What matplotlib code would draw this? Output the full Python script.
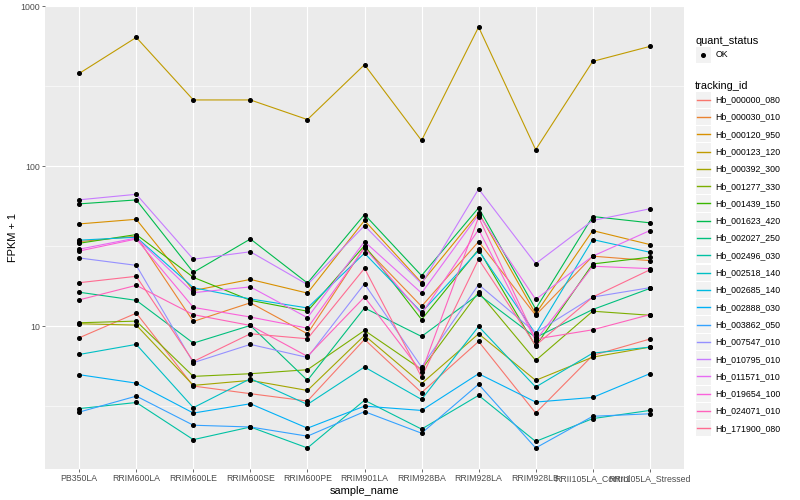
import matplotlib
matplotlib.use("Agg")
import matplotlib.pyplot as plt
import numpy as np
from matplotlib.legend_handler import HandlerBase
from matplotlib.patches import Rectangle
from matplotlib.lines import Line2D
from matplotlib.ticker import FixedLocator, FixedFormatter, NullFormatter

plt.rcParams['font.family'] = ['Liberation Sans', 'DejaVu Sans']

samples = ["PB350LA", "RRIM600LA", "RRIM600LE", "RRIM600SE", "RRIM600PE",
           "RRIM901LA", "RRIM928BA", "RRIM928LA", "RRIM928LB",
           "RRII105LA_Control", "RRII105LA_Stressed"]

tracking_ids = ["Hb_000000_080", "Hb_000030_010", "Hb_000120_950", "Hb_000123_120",
                "Hb_000392_300", "Hb_001277_330", "Hb_001439_150", "Hb_001623_420",
                "Hb_002027_250", "Hb_002496_030", "Hb_002518_140", "Hb_002685_140",
                "Hb_002888_030", "Hb_003862_050", "Hb_007547_010", "Hb_010795_010",
                "Hb_011571_010", "Hb_019654_100", "Hb_024071_010", "Hb_171900_080"]

colors = ["#F8766D", "#EA8331", "#D89000", "#C09B00", "#A3A500", "#7CAE00",
          "#39B600", "#00BB4E", "#00BF7D", "#00C1A3", "#00BFC4", "#00BAE0",
          "#00B0F6", "#35A2FF", "#9590FF", "#C77CFF", "#E76BF3", "#FA62DB",
          "#FF62BC", "#FF6C91"]

# FPKM + 1 values per tracking_id, in sample order
hb_000000_080 = [8.46, 12.06, 4.22, 3.78, 3.40, 8.26, 3.84, 8.02, 2.86, 6.56, 8.30]
hb_000030_010 = [33.8, 36.5, 10.7, 14.0, 8.96, 31.2, 13.3, 33.8, 11.7, 27.4, 25.7]
hb_000120_950 = [43.6, 46.6, 16.7, 19.6, 16.1, 45.8, 18.7, 51.2, 11.95, 39.6, 32.4]
hb_000123_120 = [381, 640, 260, 260, 196, 432, 145, 743, 127, 453, 562]
hb_000392_300 = [10.35, 10.15, 4.26, 4.58, 3.96, 8.75, 4.37, 8.96, 4.58, 6.40, 7.39]
hb_001277_330 = [10.5, 10.75, 4.85, 5.04, 5.34, 9.4, 5.36, 16.3, 6.1, 12.4, 11.7]
hb_001439_150 = [33.0, 37.4, 20.2, 14.5, 12.4, 31.9, 11.0, 30.2, 7.5, 24.5, 27.0]
hb_001623_420 = [58.2, 61.6, 21.7, 35.1, 18.6, 49.9, 20.7, 55.0, 12.8, 48.5, 44.3]
hb_002027_250 = [16.3, 14.5, 7.83, 10.1, 4.58, 13.0, 8.62, 15.8, 8.5, 12.7, 17.2]
hb_002496_030 = [3.05, 3.33, 1.95, 2.34, 1.73, 3.44, 2.27, 3.69, 1.90, 2.64, 2.97]
hb_002518_140 = [6.65, 7.69, 3.09, 4.69, 3.24, 5.55, 3.48, 9.96, 4.16, 6.78, 7.39]
hb_002685_140 = [34.5, 36.0, 17.4, 14.8, 13.0, 28.6, 12.2, 29.7, 8.96, 34.8, 29.0]
hb_002888_030 = [4.97, 4.40, 2.86, 3.27, 2.30, 3.16, 2.97, 5.04, 3.35, 3.58, 5.04]
hb_003862_050 = [2.90, 3.65, 2.40, 2.34, 2.05, 2.92, 2.14, 4.33, 1.73, 2.73, 2.83]
hb_007547_010 = [26.7, 24.0, 5.91, 7.69, 6.37, 18.4, 5.55, 18.2, 9.1, 15.2, 17.4]
hb_010795_010 = [61.7, 66.8, 26.2, 29.2, 18.2, 42.5, 18.4, 72.1, 24.6, 45.8, 54.2]
hb_011571_010 = [30.3, 35.6, 16.2, 17.6, 11.3, 33.8, 16.1, 49.9, 14.7, 27.4, 39.6]
hb_019654_100 = [29.5, 35.1, 13.1, 11.4, 9.72, 30.9, 11.95, 40.2, 8.13, 23.7, 22.9]
hb_024071_010 = [14.6, 18.0, 11.8, 10.1, 6.47, 15.2, 5.16, 48.1, 8.3, 9.49, 11.8]
hb_171900_080 = [18.7, 20.5, 6.01, 8.96, 8.34, 23.0, 4.8, 26.2, 7.58, 15.2, 22.5]

series = [hb_000000_080, hb_000030_010, hb_000120_950, hb_000123_120, hb_000392_300,
          hb_001277_330, hb_001439_150, hb_001623_420, hb_002027_250, hb_002496_030,
          hb_002518_140, hb_002685_140, hb_002888_030, hb_003862_050, hb_007547_010,
          hb_010795_010, hb_011571_010, hb_019654_100, hb_024071_010, hb_171900_080]

quant_status = ["OK"]

W, H = 800, 500
fig = plt.figure(figsize=(W / 100, H / 100), dpi=100)
pl, pr, pt, pb = 45, 684, 6, 469
ax = fig.add_axes([pl / W, 1 - pb / H, (pr - pl) / W, (pb - pt) / H])
ax.set_facecolor("#EBEBEB")
for s in ax.spines.values():
    s.set_visible(False)

x = np.arange(len(samples))
line_handles = []
for vals, col in zip(series, colors):
    ln, = ax.plot(x, vals, color=col, lw=0.8, zorder=2, solid_capstyle='butt')
    line_handles.append(ln)
for vals in series:
    ax.plot(x, vals, ls='none', marker='o', ms=2.6, color='black', mec='black', zorder=3)

ax.set_yscale('log')
allv = np.concatenate([np.log10(v) for v in series])
lo, hi = allv.min(), allv.max()
r = hi - lo
ax.set_ylim(10 ** (lo - 0.05 * r), 10 ** (hi + 0.05 * r))
ax.set_xlim(-0.6, len(samples) - 1 + 0.6)

ax.yaxis.set_major_locator(FixedLocator([10, 100, 1000]))
ax.yaxis.set_major_formatter(FixedFormatter(["10", "100", "1000"]))
ax.yaxis.set_minor_locator(FixedLocator([10 ** 0.5, 10 ** 1.5, 10 ** 2.5]))
ax.yaxis.set_minor_formatter(NullFormatter())
ax.set_xticks(x)
ax.set_xticklabels(samples)

ax.grid(True, which='major', color='white', lw=0.8)
ax.grid(True, which='minor', axis='y', color='white', lw=0.4)
ax.set_axisbelow(True)
ax.tick_params(axis='both', which='major', length=2.0, width=0.5, color='#333333',
               labelsize=6.3, labelcolor='#4D4D4D', pad=1.6)
ax.tick_params(axis='y', which='minor', length=0)

ax.set_xlabel("sample_name", fontsize=7.9, color='black', labelpad=2.5)
ax.set_ylabel("FPKM + 1", fontsize=7.9, color='black', labelpad=2)


class KeyHandler(HandlerBase):
    def __init__(self, kind):
        super().__init__()
        self.kind = kind

    def create_artists(self, legend, orig_handle, xdescent, ydescent, width, height,
                       fontsize, trans):
        rect = Rectangle((-xdescent + 0.4, -ydescent + 0.4), width - 0.8, height - 0.8,
                         facecolor='#F2F2F2', edgecolor='none', transform=trans)
        cy = -ydescent + height / 2
        if self.kind == 'line':
            art = Line2D([-xdescent + width * 0.1, -xdescent + width * 0.9], [cy, cy],
                         color=orig_handle.get_color(), lw=1.0, transform=trans)
        else:
            art = Line2D([-xdescent + width / 2], [cy], marker='o', ms=2.6,
                         color='black', ls='none', transform=trans)
        return [rect, art]


fs = 6.3
key_pt = 17.3 * 0.72
hh = (key_pt / fs - 0.245) / 0.65
common = dict(frameon=False, fontsize=fs, title_fontsize=7.9, borderpad=0,
              labelspacing=0, handleheight=hh, handlelength=16.5 * 0.72 / fs,
              handletextpad=0.45, borderaxespad=0, alignment='left')

qh = Line2D([], [], color='black')
leg1 = fig.legend([qh], quant_status, title="quant_status", loc='upper left',
                  bbox_to_anchor=(695 / W, 1 - 36 / H),
                  handler_map={Line2D: KeyHandler('point')}, **common)
leg2 = fig.legend(line_handles, tracking_ids, title="tracking_id", loc='upper left',
                  bbox_to_anchor=(695 / W, 1 - 81 / H),
                  handler_map={Line2D: KeyHandler('line')}, **common)

fig.savefig("out.png", dpi=100)
